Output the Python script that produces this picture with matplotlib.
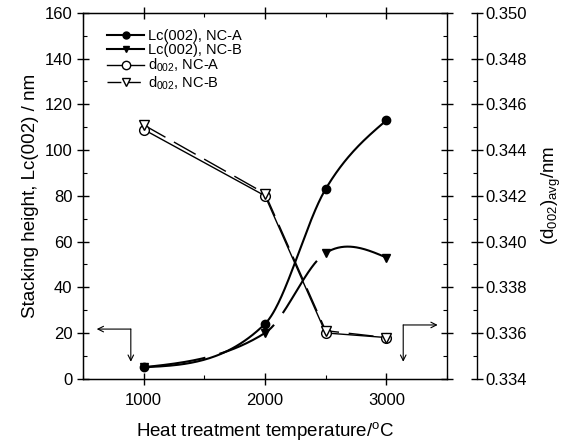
import numpy as np
import matplotlib
matplotlib.use('Agg')
import matplotlib.pyplot as plt
from matplotlib.ticker import MultipleLocator

plt.rcParams['font.family'] = ['Liberation Sans', 'DejaVu Sans']
plt.rcParams['mathtext.default'] = 'regular'

# data
temp = [1000, 2000, 2500, 3000]
lc_nca = [5, 24, 83, 113]
lc_ncb = [5, 20, 55, 53]
d_nca = [0.3449, 0.3420, 0.3360, 0.3358]
d_ncb = [0.3451, 0.3421, 0.3361, 0.3358]


def smooth_curve(x, y, n=60):
    # cubic Hermite through the points (Catmull-Rom tangents, free ends)
    x = np.asarray(x, float)
    y = np.asarray(y, float)
    k = len(x)
    m = np.zeros(k)
    for i in range(1, k - 1):
        m[i] = (y[i + 1] - y[i - 1]) / (x[i + 1] - x[i - 1])
    m[0] = (3 * (y[1] - y[0]) / (x[1] - x[0]) - m[1]) / 2
    m[-1] = (3 * (y[-1] - y[-2]) / (x[-1] - x[-2]) - m[-2]) / 2
    xs, ys = [], []
    for i in range(k - 1):
        h = x[i + 1] - x[i]
        t = np.linspace(0, 1, n)
        h00 = 2 * t**3 - 3 * t**2 + 1
        h10 = t**3 - 2 * t**2 + t
        h01 = -2 * t**3 + 3 * t**2
        h11 = t**3 - t**2
        xs.append(x[i] + t * h)
        ys.append(h00 * y[i] + h10 * h * m[i] + h01 * y[i + 1] + h11 * h * m[i + 1])
    return np.concatenate(xs), np.concatenate(ys)


fig = plt.figure(figsize=(5.67, 4.45), dpi=100)
ax = fig.add_axes([0.1464, 0.149, 0.6420, 0.822])
ax2 = ax.twinx()

xa, ya = smooth_curve(temp, lc_nca)
xb, yb = smooth_curve(temp, lc_ncb)
ax.plot(xa, ya, color='k', lw=1.5)
ax.plot(xb, yb, color='k', lw=1.5, dashes=(30, 7))
ax.plot(temp, lc_nca, 'o', color='k', ms=6)
ax.plot(temp, lc_ncb, 'v', color='k', ms=6)

ax2.plot(temp, d_nca, '-', color='k', lw=1)
ax2.plot(temp, d_ncb, color='k', lw=1, dashes=(18, 7))
ax2.plot(temp, d_nca, 'o', color='k', mfc='white', ms=7, mew=1)
ax2.plot(temp, d_ncb, 'v', color='k', mfc='white', ms=7, mew=1)

# legend handles
h1, = ax.plot([], [], '-o', color='k', lw=1.5, ms=5)
h2, = ax.plot([], [], '-v', color='k', lw=1.5, ms=5)
h3, = ax.plot([], [], '-o', color='k', lw=1, ms=6, mfc='white')
h4, = ax.plot([], [], 'v', color='k', lw=1, ms=6, mfc='white', ls=(0, (10, 4)))
ax.legend([h1, h2, h3, h4],
          ['Lc(002), NC-A', 'Lc(002), NC-B', 'd$_{002}$, NC-A', 'd$_{002}$, NC-B'],
          loc='upper left', bbox_to_anchor=(0.035, 0.988), frameon=False,
          fontsize=10.5, handlelength=2.5, handletextpad=0.3, labelspacing=0.0,
          borderaxespad=0.4)

# arrows pointing to the axes
arr = dict(arrowstyle='->', color='k', lw=0.8, shrinkA=0, shrinkB=0)
ax.annotate('', xy=(613, 21.7), xytext=(894, 21.7), arrowprops=arr)
ax.annotate('', xy=(894, 7.4), xytext=(894, 21.7), arrowprops=arr)
ax.annotate('', xy=(3423, 23.5), xytext=(3139, 23.5), arrowprops=arr)
ax.annotate('', xy=(3139, 7.4), xytext=(3139, 23.5), arrowprops=arr)

ax.set_xlim(500, 3500)
ax.set_ylim(0, 160)
ax2.set_ylim(0.334, 0.350)
ax.set_xticks([1000, 2000, 3000])
ax.xaxis.set_minor_locator(MultipleLocator(500))
ax.yaxis.set_major_locator(MultipleLocator(20))
ax.yaxis.set_minor_locator(MultipleLocator(10))
ax2.yaxis.set_major_locator(MultipleLocator(0.002))
ax2.yaxis.set_minor_locator(MultipleLocator(0.001))
ax2.set_yticklabels(['%.3f' % v for v in ax2.get_yticks()])

ax.tick_params(which='major', direction='inout', length=8, width=1, labelsize=12,
               top=True, right=True, labelright=False)
ax.tick_params(axis='x', which='major', pad=6)
ax.tick_params(which='minor', direction='in', length=3, width=0.8,
               top=True, right=True)
ax2.spines['right'].set_position(('outward', 21.6))
ax2.tick_params(which='major', direction='inout', length=8, width=1, labelsize=12, pad=2)
ax2.tick_params(which='minor', direction='in', length=3, width=0.8)

for s in ax.spines.values():
    s.set_linewidth(1)
ax2.spines['right'].set_linewidth(1)

ax.set_xlabel('Heat treatment temperature/$^{o}$C', fontsize=13.5, labelpad=9)
ax.set_ylabel('Stacking height, Lc(002) / nm', fontsize=13.5, labelpad=4)
ax2.set_ylabel('(d$_{002}$)$_{avg}$/nm', fontsize=13.5, labelpad=9)

fig.savefig('out.png', dpi=100)
